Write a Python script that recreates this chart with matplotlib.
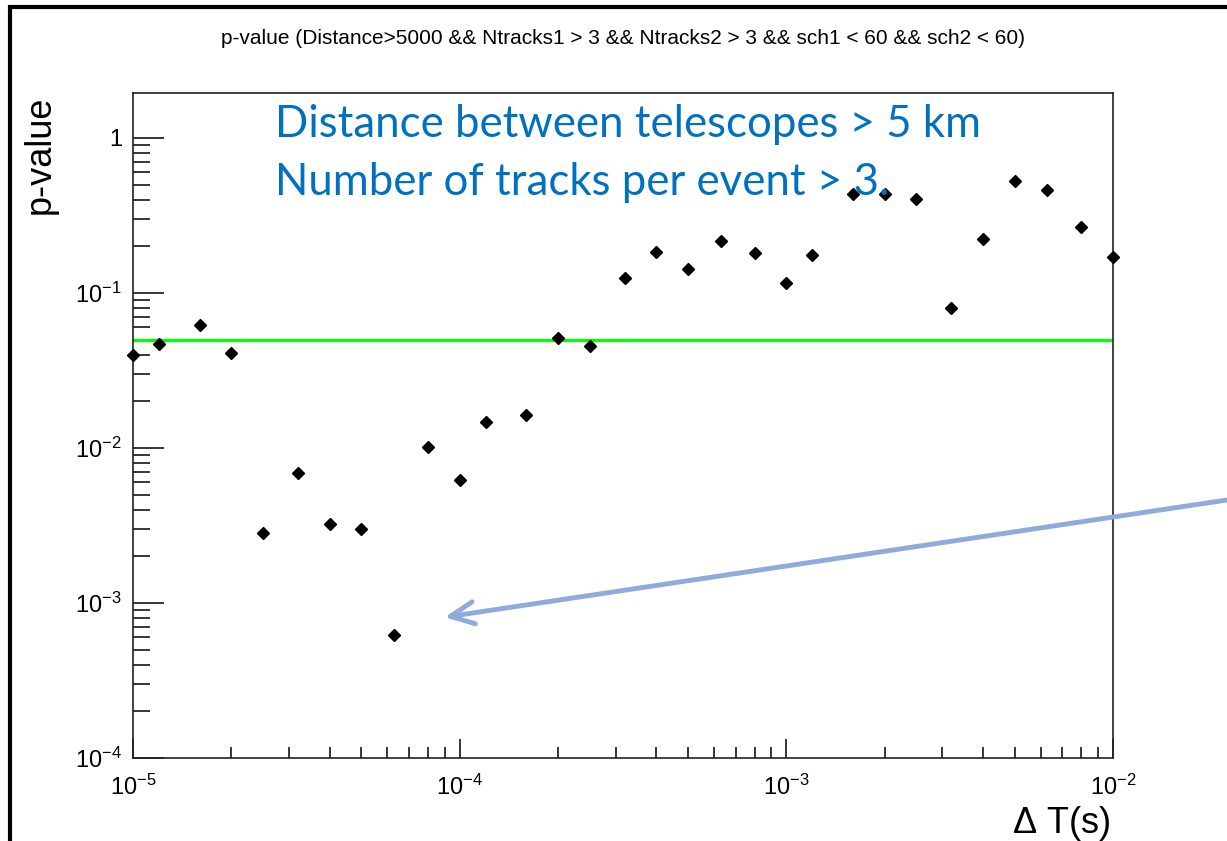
import matplotlib
matplotlib.use('Agg')
import matplotlib.pyplot as plt
import matplotlib.ticker as ticker
from matplotlib.patches import Rectangle
import numpy as np

plt.rcParams['font.family'] = ['Liberation Sans', 'DejaVu Sans']
plt.rcParams['mathtext.fontset'] = 'custom'
plt.rcParams['mathtext.rm'] = 'Liberation Sans'
plt.rcParams['mathtext.it'] = 'Liberation Sans:italic'

# time window (s) and p-value per window
delta_t = [1e-5, 1.2e-5, 1.6e-5, 2e-5, 2.5e-5, 3.2e-5, 4e-5, 5e-5, 6.3e-5, 8e-5,
           1e-4, 1.2e-4, 1.6e-4, 2e-4, 2.5e-4, 3.2e-4, 4e-4, 5e-4, 6.3e-4, 8e-4,
           1e-3, 1.2e-3, 1.6e-3, 2e-3, 2.5e-3, 3.2e-3, 4e-3, 5e-3, 6.3e-3, 8e-3,
           1e-2]
p_value = [0.040, 0.047, 0.062, 0.041, 0.00284, 0.0069, 0.00323, 0.00299, 0.000625, 0.0102,
           0.0062, 0.0147, 0.0164, 0.0516, 0.0453, 0.125, 0.185, 0.142, 0.216, 0.180,
           0.116, 0.176, 0.438, 0.438, 0.404, 0.0805, 0.222, 0.526, 0.462, 0.267,
           0.171]
threshold = 0.05

title = 'p-value (Distance>5000 && Ntracks1 > 3 && Ntracks2 > 3 && sch1 < 60 && sch2 < 60)'
notes = ['Distance between telescopes > 5 km', 'Number of tracks per event > 3.']

W, H = 1227, 841
fig = plt.figure(figsize=(W / 100, H / 100), dpi=100)
ax = fig.add_axes([133 / W, 1 - 758 / H, 980 / W, 665 / H])

ax.axhline(threshold, color='#00ff00', lw=2.3, zorder=2)
ax.plot(delta_t, p_value, 'D', color='black', ms=6.5, zorder=3, clip_on=False)

ax.set_xscale('log')
ax.set_yscale('log')
ax.set_xlim(1e-5, 1e-2)
ax.set_ylim(1e-4, 1.95)


def root_fmt(v, pos):
    e = int(round(np.log10(v)))
    if e == 0:
        return '1'
    return r'$\mathregular{10^{%d}}$' % e


for axis in [ax.xaxis, ax.yaxis]:
    axis.set_major_locator(ticker.LogLocator(base=10))
    axis.set_minor_locator(ticker.LogLocator(base=10, subs=np.arange(2, 10)))
    axis.set_major_formatter(ticker.FuncFormatter(root_fmt))
    axis.set_minor_formatter(ticker.NullFormatter())

ax.tick_params(axis='both', which='both', direction='in', width=1.1, color='black',
               labelsize=17, top=False, right=False)
ax.tick_params(axis='y', which='major', length=22, pad=8)
ax.tick_params(axis='y', which='minor', length=12)
ax.tick_params(axis='x', which='major', length=14, pad=12)
ax.tick_params(axis='x', which='minor', length=8)

for s in ax.spines.values():
    s.set_linewidth(1.2)
    s.set_color('#222222')

ax.set_ylabel('p-value', fontsize=26)
ax.yaxis.label.set_va('center')
ax.yaxis.set_label_coords(-0.095, 0.907)
ax.set_xlabel(r'$\Delta$ T(s)', fontsize=26)
ax.xaxis.label.set_va('center')
ax.xaxis.set_label_coords(0.947, -0.098)

fig.text(0.508, 1 - 39 / H, title, ha='center', va='center', fontsize=15)

ax.text(0.145, 0.934, notes[0], transform=ax.transAxes, fontsize=31.5,
        family=['Lato', 'DejaVu Sans'], color='#0070c0', va='baseline')
ax.text(0.145, 0.847, notes[1], transform=ax.transAxes, fontsize=31.5,
        family=['Lato', 'DejaVu Sans'], color='#0070c0', va='baseline')

# arrow pointing at the lowest p-value
ax.annotate('', xy=(9e-5, 8.1e-4), xycoords='data',
            xytext=(1.0, 0.4055), textcoords='figure fraction',
            arrowprops=dict(arrowstyle='->,head_length=1.7,head_width=0.8',
                            color='#8faadc', lw=3.5, shrinkA=0, shrinkB=0,
                            mutation_scale=10),
            annotation_clip=False)

# slide frame
fig.add_artist(Rectangle((10 / W, -0.1), 1.2, 1.1 - 7 / H, transform=fig.transFigure,
                         fill=False, edgecolor='black', lw=3))

fig.savefig('out.png', dpi=100)
